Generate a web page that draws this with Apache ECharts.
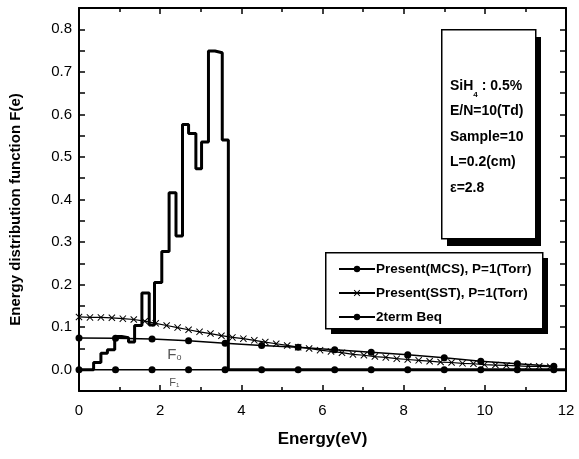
<!DOCTYPE html>
<html><head><meta charset="utf-8">
<script src="https://cdn.jsdelivr.net/npm/echarts@6/dist/echarts.min.js"></script>
<style>html,body{margin:0;padding:0;background:#fff}#c{width:579px;height:459px}</style>
</head><body><div id="c"></div>
<script>
// MCS histogram: left bin edges and values (step)
var mcsEdges = [0,0.36,0.54,0.70,0.88,1.05,1.22,1.37,1.55,1.73,1.86,2.04,2.22,2.39,2.55,2.70,2.88,3.02,3.19,3.35,3.53,3.68,12];
var mcsValues = [0,0.017,0.039,0.047,0.078,0.075,0.065,0.104,0.18,0.105,0.205,0.278,0.416,0.314,0.576,0.555,0.472,0.535,0.749,0.745,0.54,0,0];
// SST
var sstX = [0,0.27,0.54,0.81,1.08,1.35,1.62,1.89,2.16,2.43,2.70,2.97,3.24,3.51,3.78,4.05,4.32,4.59,4.86,5.13,5.40,5.67,5.94,6.21,6.48,6.75,7.02,7.29,7.56,7.83,8.10,8.37,8.64,8.91,9.18,9.45,9.72,9.99,10.26,10.53,10.80,11.07,11.34,11.61];
var sstY = [0.124,0.123,0.123,0.122,0.120,0.118,0.114,0.109,0.104,0.099,0.094,0.089,0.085,0.080,0.076,0.073,0.069,0.065,0.061,0.057,0.053,0.050,0.046,0.043,0.040,0.036,0.034,0.031,0.029,0.026,0.024,0.022,0.020,0.018,0.017,0.015,0.014,0.012,0.011,0.010,0.009,0.008,0.008,0.007];
// Two-term Boltzmann
var bolX = [0,0.9,1.8,2.7,3.6,4.5,5.4,6.3,7.2,8.1,9.0,9.9,10.8,11.7];
var f0Y = [0.0745,0.074,0.072,0.068,0.062,0.057,0.053,0.047,0.041,0.035,0.028,0.020,0.014,0.008];
var f1Y = [0,0,0,0,0,0,0,0,0,0,0,0,0,0];
var seriesNames = ['Present(MCS), P=1(Torr)','Present(SST), P=1(Torr)','2term Beq'];
var xTicks = [0,2,4,6,8,10,12];
var infoLines = ['SiH{s|4} : 0.5%','E/N=10(Td)','Sample=10','L=0.2(cm)','ε=2.8'];

function zip(a,b){return a.map(function(v,i){return [v,b[i]];});}
var FONT = '"Liberation Sans",Arial,sans-serif';
var XSYM = 'path://M0,1 L1,0 L5,4 L9,0 L10,1 L6,5 L10,9 L9,10 L5,6 L1,10 L0,9 L4,5 Z';

var chart = echarts.init(document.getElementById('c'));
var axisCommon = {
  axisLine:{show:true,onZero:false,lineStyle:{color:'#000',width:2}},
  axisTick:{show:true,inside:true,length:6,lineStyle:{color:'#000',width:1.5}},
  splitLine:{show:false}
};
function mk(o){return Object.assign({}, JSON.parse(JSON.stringify(axisCommon)), o);}
chart.setOption({
  animation:false,
  backgroundColor:'#fff',
  grid:{left:77,top:8,right:13,bottom:68},
  xAxis:[
    mk({type:'value',min:xTicks[0],max:xTicks[xTicks.length-1],interval:2,position:'bottom',
      minorTick:{show:true,splitNumber:2,length:4,lineStyle:{color:'#000',width:1.5}},
      axisLabel:{color:'#000',fontSize:15,fontFamily:FONT,margin:12},
      name:'Energy(eV)',nameLocation:'middle',nameGap:40,
      nameTextStyle:{color:'#000',fontSize:17,fontWeight:'bold',fontFamily:FONT}}),
    mk({type:'value',min:0,max:12,interval:2,position:'top',
      minorTick:{show:true,splitNumber:2,length:4,lineStyle:{color:'#000',width:1.5}},
      axisLabel:{show:false}})
  ],
  yAxis:[
    mk({type:'value',min:-0.05,max:0.85,interval:0.05,position:'left',
      axisLabel:{color:'#000',fontSize:15,fontFamily:FONT,margin:7,
        formatter:function(v){var k=Math.round(v*100);return (k%10===0&&k>=0)?(k/100).toFixed(1):'';}},
      name:'Energy distribution function F(e)',nameLocation:'middle',nameGap:56,
      nameTextStyle:{color:'#000',fontSize:15,fontWeight:'bold',fontFamily:FONT,padding:[0,20,0,0]}}),
    mk({type:'value',min:-0.05,max:0.85,interval:0.05,position:'right',axisLabel:{show:false}})
  ],
  legend:{
    orient:'vertical',left:326,top:258,z:20,
    data:seriesNames,
    itemWidth:36,itemHeight:8,itemGap:10,
    padding:[4,6,4,12],
    backgroundColor:'transparent',borderWidth:0,
    textStyle:{color:'#000',fontSize:13.5,fontWeight:'bold',fontFamily:FONT,padding:[0,0,0,-4]},
    selectedMode:false
  },
  graphic:[
    {type:'rect',left:447,top:37,z:9,shape:{width:94,height:209},style:{fill:'#000'}},
    {type:'rect',left:441,top:29,z:10,shape:{width:94,height:209},
      style:{fill:'#fff',stroke:'#000',lineWidth:1.5}},
    {type:'text',left:450,top:73,z:11,
      style:{text:infoLines.join('\n'),fill:'#000',font:'bold 14px '+FONT,lineHeight:25.5,
        rich:{s:{fontSize:8,fontWeight:'bold',fontFamily:FONT,verticalAlign:'bottom',padding:[8,0,0,0]}}}},
    {type:'rect',left:331,top:258,z:9,shape:{width:217,height:76},style:{fill:'#000'}},
    {type:'rect',left:325,top:252,z:10,shape:{width:217,height:76},
      style:{fill:'#fff',stroke:'#000',lineWidth:1.5}}
  ],
  series:[
    {name:seriesNames[0],type:'line',step:'end',data:zip(mcsEdges,mcsValues),showSymbol:false,symbol:'none',
      lineStyle:{color:'#000',width:3},itemStyle:{color:'#000'},z:5},
    {name:seriesNames[1],type:'line',data:zip(sstX,sstY),symbol:XSYM,symbolSize:7,
      lineStyle:{color:'#000',width:1.2},itemStyle:{color:'#000'},z:4},
    {name:seriesNames[2],type:'line',data:zip(bolX,f0Y),symbol:'circle',symbolSize:7,
      lineStyle:{color:'#000',width:1.5},itemStyle:{color:'#000'},z:4,
      markPoint:{symbol:'circle',symbolSize:1,silent:true,itemStyle:{color:'rgba(0,0,0,0)'},data:[
        {coord:[2.35,0.036],label:{show:true,position:'inside',formatter:'F{s|o}',color:'#555',fontSize:15,fontFamily:FONT,
          rich:{s:{fontSize:9,color:'#555',padding:[7,0,0,0]}}}},
        {coord:[2.35,-0.032],label:{show:true,position:'inside',formatter:'F{s|1}',color:'#555',fontSize:11,fontFamily:FONT,
          rich:{s:{fontSize:6,color:'#555',padding:[5,0,0,0]}}}}
      ]}},
    {name:seriesNames[2],type:'line',data:zip(bolX,f1Y),symbol:'circle',symbolSize:7,
      lineStyle:{color:'#000',width:1.5},itemStyle:{color:'#000'},z:4}
  ]
});
</script></body></html>
